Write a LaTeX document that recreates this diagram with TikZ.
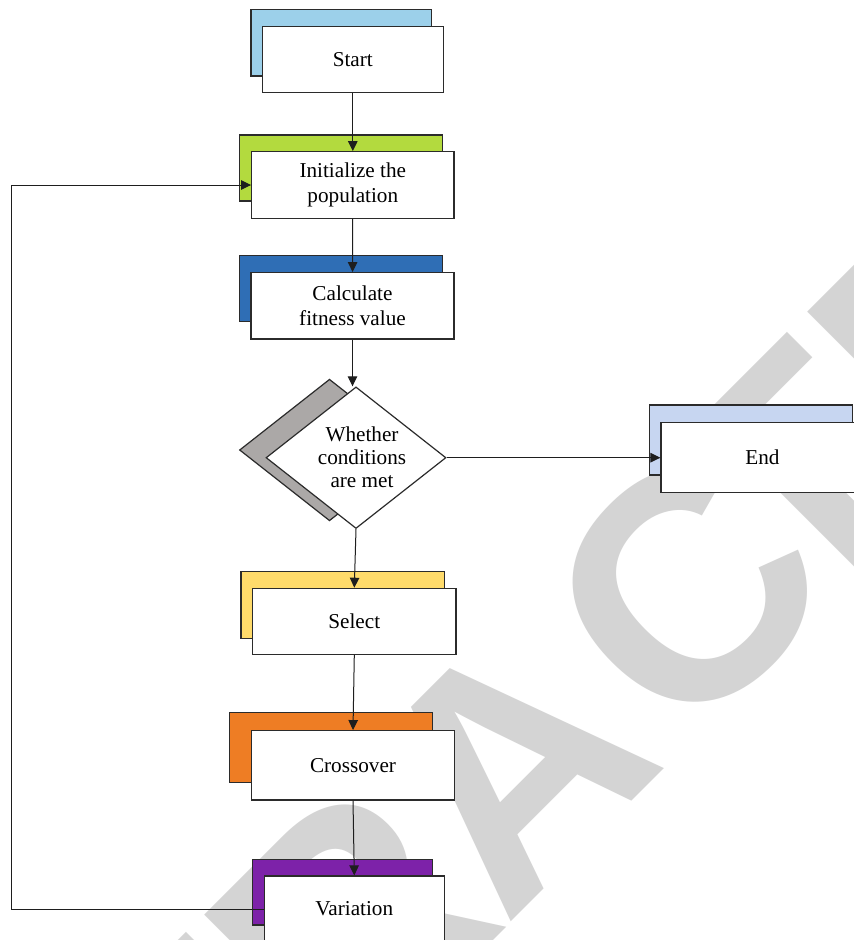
\documentclass[tikz,border=0pt]{standalone}
\usepackage{fontspec}
\setmainfont{Liberation Serif}
\newfontfamily\markfont{Liberation Sans}
\usetikzlibrary{arrows.meta,shapes.geometric}

\definecolor{linec}{HTML}{2B2B2B}
\definecolor{arrowc}{HTML}{1E1E1E}
\definecolor{startc}{HTML}{9CD0EA}
\definecolor{initc}{HTML}{B3DA3E}
\definecolor{calcc}{HTML}{2F6EB5}
\definecolor{condc}{HTML}{ABA8A7}
\definecolor{endc}{HTML}{C7D6F1}
\definecolor{selc}{HTML}{FFDB6B}
\definecolor{crossc}{HTML}{EE7D24}
\definecolor{varc}{HTML}{7D22A9}
\definecolor{markc}{HTML}{D4D4D4}

\tikzset{
  stepbox/.style={draw=linec, line width=1.2pt, fill=white, inner sep=0pt,
    align=center, font=\fontsize{21.2}{24.5}\selectfont},
  shadebox/.style={draw=linec, line width=1.2pt, fill=#1, inner sep=0pt},
  flow/.style={draw=arrowc, line width=1pt, -{Triangle[length=10pt,width=9.5pt]}},
  stampletter/.style={anchor=base, inner sep=0pt, text=markc,
    font=\markfont\bfseries\fontsize{323}{323}\selectfont},
}

\begin{document}
\begin{tikzpicture}[x=1pt, y=-1pt]
  \useasboundingbox (0,0) rectangle (854,940);
  \fill[white] (0,0) rectangle (854,940);

  % diagonal stamp behind the chart, one letter at a time along its baseline
  \begin{scope}
    \clip (0,0) rectangle (854,940);
    \begin{scope}[shift={(802,305)}, rotate=45, transform shape]
      \node[stampletter] (stR1) at (-1405,231) {R};
      \node[stampletter] (stE1) at (-1180,231) {E};
      \node[stampletter] (stT1) at (-974,231) {T};
      \node[stampletter] (stR2) at (-759,231) {R};
      \node[stampletter] (stA)  at (-533,231) {A};
      \node[stampletter] (stC)  at (-284,231) {C};
      \node[stampletter] (stT2) at (-125,231) {T};
      \node[stampletter] (stE2) at (85,231)   {E};
      \node[stampletter] (stD)  at (308,231)  {D};
    \end{scope}
  \end{scope}

  % coloured plates behind each step
  \node[shadebox=startc, minimum width=180.7pt, minimum height=66.7pt] (startbk) at (341.3,42.7) {};
  \node[shadebox=initc,  minimum width=203.4pt, minimum height=66pt]   (initbk)  at (341,168) {};
  \node[shadebox=calcc,  minimum width=203.4pt, minimum height=66pt]   (calcbk)  at (341,288.3) {};
  \node[shadebox=condc,  diamond, minimum width=180pt, minimum height=141.6pt] (condbk) at (329.5,450) {};
  \node[shadebox=endc,   minimum width=203.4pt, minimum height=70pt]   (endbk)   at (751,440) {};
  \node[shadebox=selc,   minimum width=203.3pt, minimum height=66.6pt] (selbk)   at (342.7,605) {};
  \node[shadebox=crossc, minimum width=203.4pt, minimum height=70pt]   (crossbk) at (331,747.7) {};
  \node[shadebox=varc,   minimum width=180pt,   minimum height=65.7pt] (varbk)   at (342.7,892.2) {};

  % steps
  \node[stepbox, minimum width=181pt, minimum height=65.6pt] (start) at (352.8,59.5) {Start};
  \node[stepbox, minimum width=202.3pt, minimum height=66.6pt] (init) at (352.8,185) {Initialize the\\population};
  \node[stepbox, minimum width=203pt, minimum height=66.3pt] (calc) at (352.5,305.8) {Calculate\\fitness value};
  \node[stepbox, diamond, minimum width=180pt, minimum height=141.6pt] (cond) at (356,457.7) {};
  \node[align=center, font=\fontsize{21.2}{23}\selectfont, inner sep=0pt] (condtxt) at (362,457) {Whether\\conditions\\are met};
  \node[stepbox, minimum width=203pt, minimum height=70pt] (end) at (762.5,457.7) {End};
  \node[stepbox, minimum width=203.3pt, minimum height=66pt] (sel) at (354.3,621.3) {Select};
  \node[stepbox, minimum width=202.6pt, minimum height=69.3pt] (cross) at (353,765.3) {Crossover};
  \node[stepbox, minimum width=180pt, minimum height=66pt] (var) at (354.3,909) {Variation};

  % connectors
  \coordinate (loopc) at (11.7,909);
  \draw[flow] (start) -- (init);
  \draw[flow] (init) -- (calc);
  \draw[flow] (calc.south) -- (calc.south |- cond.north);
  \draw[flow] (cond.east) -- (end.west);
  \draw[flow] (cond.south) -- (sel.north);
  \draw[flow] (sel.south) -- (cross.north);
  \draw[flow] (cross.south) -- (var.north);
  \draw[flow] (var.west) -- (var.west -| loopc) |- (init.west);
\end{tikzpicture}
\end{document}
